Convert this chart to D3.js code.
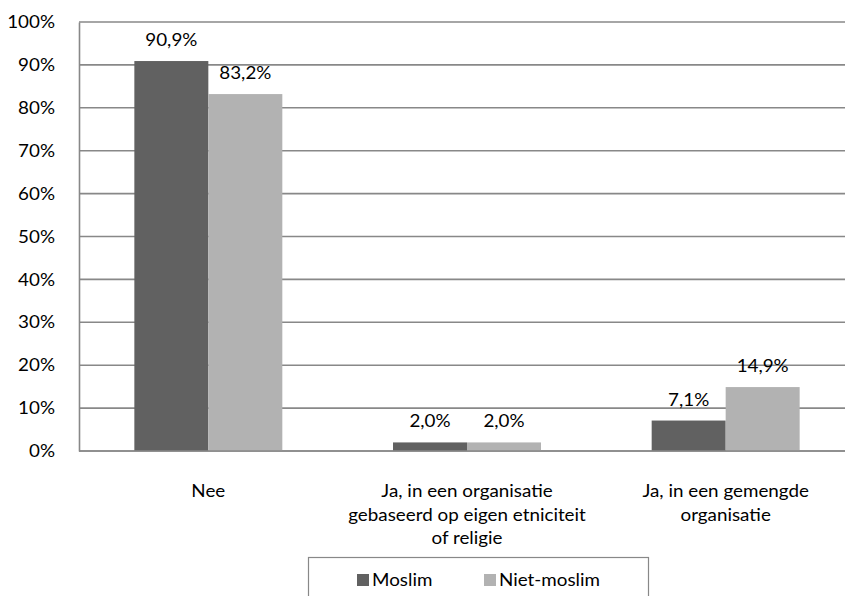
<!DOCTYPE html>
<html><head><meta charset="utf-8">
<script src="https://cdn.jsdelivr.net/npm/d3@7"></script>
<style>body{margin:0;background:#fff}svg{display:block}text{font-family:Lato,"Open Sans",sans-serif;fill:#000}</style>
</head><body><svg id="c" width="845" height="596"></svg>
<script>
const categories = ["Nee", "Ja, in een organisatie gebaseerd op eigen etniciteit of religie", "Ja, in een gemengde organisatie"];
const categoryLines = [["Nee"], ["Ja, in een organisatie", "gebaseerd op eigen etniciteit", "of religie"], ["Ja, in een gemengde", "organisatie"]];
const seriesNames = ["Moslim", "Niet-moslim"];
const moslim = [90.9, 2.0, 7.1];
const nietMoslim = [83.2, 2.0, 14.9];
const yTicks = [0, 10, 20, 30, 40, 50, 60, 70, 80, 90, 100];
const colors = ["#616161", "#b2b2b2"];

(function () {
const svg = d3.select("#c");
const FS = 16.5, SX = 1.14;
const mLeft = 79, mRight = 855, mTop = 22, mBottom = 451;
const y = d3.scaleLinear().domain([0, 100]).range([mBottom, mTop]);
const x0 = d3.scaleBand().domain(categories).range([mLeft, mRight]).padding(0);
const x1 = d3.scaleBand().domain(seriesNames).range([0, x0.bandwidth()]).paddingInner(0).paddingOuter(0.748);
const seriesVals = [moslim, nietMoslim];
const fmt = v => v.toFixed(1).replace(".", ",") + "%";

// stretched text helper
function stext(parent, x, yy, str, anchor) {
  return parent.append("text")
    .attr("transform", `translate(${x},${yy}) scale(${SX},1)`)
    .attr("text-anchor", anchor || "middle").attr("font-size", FS).text(str);
}

svg.append("g").selectAll("line").data(yTicks).join("line")
  .attr("x1", mLeft).attr("x2", mRight).attr("y1", d => y(d)).attr("y2", d => y(d))
  .attr("stroke", "#888").attr("stroke-width", 1.6);
const yAxis = d3.axisLeft(y).tickValues(yTicks).tickSize(0).tickPadding(24).tickFormat(d => d + "%");
const ga = svg.append("g").attr("transform", `translate(${mLeft},0)`).call(yAxis);
ga.select(".domain").attr("stroke", "#888").attr("stroke-width", 1.6);
ga.selectAll(".tick text")
  .attr("x", 0).attr("dy", "0.34em")
  .attr("transform", `translate(-24,0) scale(${SX},1)`)
  .attr("font-size", FS).attr("font-family", "Lato").attr("fill", "#000");

const groups = svg.append("g").selectAll("g").data(categories).join("g")
  .attr("transform", d => `translate(${x0(d)},0)`);
const rows = (d, i) => seriesNames.map((s, j) => ({s, v: seriesVals[j][i], j}));
groups.selectAll("rect").data(rows).join("rect")
  .attr("x", d => x1(d.s)).attr("width", x1.bandwidth())
  .attr("y", d => y(d.v)).attr("height", d => y(0) - y(d.v))
  .attr("fill", d => colors[d.j]);
groups.each(function (c, i) {
  const g = d3.select(this);
  rows(c, i).forEach(d => stext(g, x1(d.s) + x1.bandwidth() / 2, y(d.v) - 15, fmt(d.v)));
});

svg.append("line").attr("x1", mLeft).attr("x2", mRight).attr("y1", y(0)).attr("y2", y(0))
  .attr("stroke", "#888").attr("stroke-width", 1.6);

categories.forEach((c, i) => {
  const cx = x0(c) + x0.bandwidth() / 2;
  categoryLines[i].forEach((ln, k) => stext(svg, cx, 497 + k * 23.5, ln));
});

const lg = svg.append("g");
lg.append("rect").attr("x", 308.5).attr("y", 557.5).attr("width", 340).attr("height", 60)
  .attr("fill", "#fff").attr("stroke", "#888").attr("stroke-width", 1.2);
const lx = [357, 484];
seriesNames.forEach((s, j) => {
  lg.append("rect").attr("x", lx[j]).attr("y", 574).attr("width", 12).attr("height", 12).attr("fill", colors[j]);
  stext(lg, lx[j] + 15, 586, s, "start");
});
})();
</script></body></html>
